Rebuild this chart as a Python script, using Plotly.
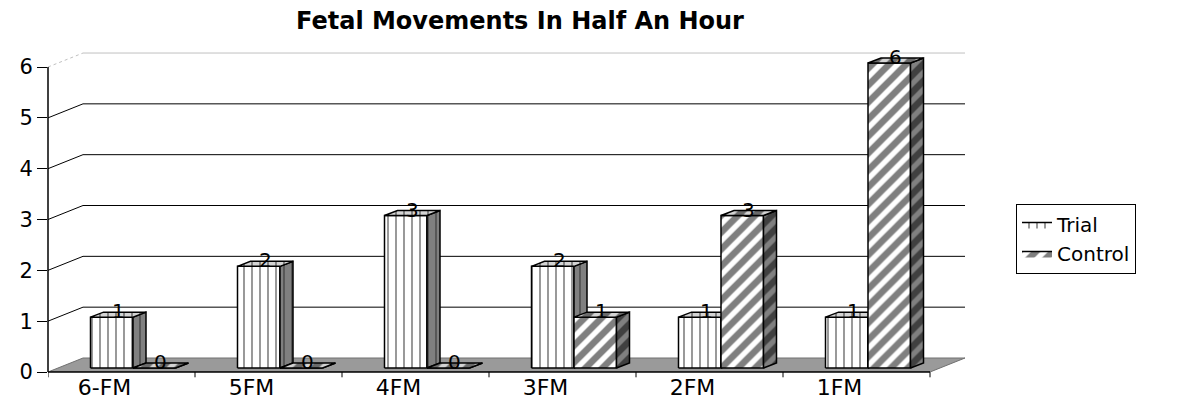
import plotly.graph_objects as go

# ---- data ----
categories = ["6-FM", "5FM", "4FM", "3FM", "2FM", "1FM"]
trial = [1, 2, 3, 2, 1, 1]
control = [0, 0, 0, 1, 3, 6]
y_ticks = [0, 1, 2, 3, 4, 5, 6]
series_names = ["Trial", "Control"]

# ---- geometry helpers (pixel sizes converted to data units) ----
PX_X = 147.0   # pixels per category
PX_Y = 50.83   # pixels per y unit
def dx(px):
    return px / PX_X
def dy(px):
    return px / PX_Y

WALL_DX, WALL_DY = dx(35), dy(14)
BAR_SHIFT, BAR_BASE = dx(11.5), dy(4)
BAR_W = dx(42.5)
BAR_DX, BAR_DY = dx(13), dy(5)

FONT = "DejaVu Sans, Arial, sans-serif"
styles = [
    dict(shape="|", fg="#2a2a2a", size=8, solidity=0.24),
    dict(shape="/", fg="#000000", size=12, solidity=0.55),
]
FRONT_BG, SIDE_BG, TOP_BG = "#ffffff", "#808080", "#d4d4d4"

fig = go.Figure()

def face(xs, ys, st, bg, name=None, show=False):
    fig.add_trace(go.Scatter(
        x=xs + [xs[0]], y=ys + [ys[0]], mode="lines", fill="toself",
        fillcolor=bg,
        fillpattern=dict(shape=st["shape"], fgcolor=st["fg"], bgcolor=bg,
                         size=st["size"], solidity=st["solidity"]),
        line=dict(color="#000000", width=1.5),
        name=name, legendgroup=name, showlegend=show, hoverinfo="skip"))

annotations = []
for i, cat in enumerate(categories):
    for s, vals in enumerate([trial, control]):
        v = vals[i]
        st = styles[s]
        xl = i + BAR_SHIFT - BAR_W + s * BAR_W
        xr = xl + BAR_W
        b = BAR_BASE
        t = BAR_BASE + v
        name = series_names[s]
        # front
        face([xl, xr, xr, xl], [b, b, t, t], st, FRONT_BG, name, show=(i == 0))
        # side
        face([xr, xr + BAR_DX, xr + BAR_DX, xr], [b, b + BAR_DY, t + BAR_DY, t], st, SIDE_BG, name)
        # top
        face([xl, xr, xr + BAR_DX, xl + BAR_DX], [t, t, t + BAR_DY, t + BAR_DY], st, TOP_BG, name)
        annotations.append(dict(
            x=xl + BAR_W / 2 + BAR_DX / 2, y=t, xref="x", yref="y",
            text=str(v), showarrow=False, yanchor="middle", yshift=6,
            font=dict(family=FONT, size=20, color="#000000")))

x0, x1 = -0.5, len(categories) - 0.5
shapes = []
# floor
shapes.append(dict(type="path", xref="x", yref="y", layer="below",
                   path=f"M {x0},0 L {x1},0 L {x1 + WALL_DX},{WALL_DY} L {x0 + WALL_DX},{WALL_DY} Z",
                   fillcolor="#9a9a9a", line=dict(color="#707070", width=1)))
# back wall gridlines
for v in y_ticks[1:]:
    col = "#c0c0c0" if v == y_ticks[-1] else "#000000"
    dash = "dot" if v == y_ticks[-1] else "solid"
    shapes.append(dict(type="line", xref="x", yref="y", layer="below",
                       x0=x0 + WALL_DX, x1=x1 + WALL_DX, y0=v + WALL_DY, y1=v + WALL_DY,
                       line=dict(color=col, width=1)))
    shapes.append(dict(type="line", xref="x", yref="y", layer="below",
                       x0=x0, x1=x0 + WALL_DX, y0=v, y1=v + WALL_DY,
                       line=dict(color=col, width=1, dash=dash)))
# axis lines
shapes.append(dict(type="line", xref="paper", yref="y", x0=0, x1=0, y0=0, y1=y_ticks[-1],
                   line=dict(color="#000000", width=1.5)))
shapes.append(dict(type="line", xref="x", yref="paper", x0=x0, x1=x1, y0=0, y1=0,
                   line=dict(color="#000000", width=1.5)))
# category boundary ticks
for k in range(len(categories) + 1):
    shapes.append(dict(type="line", xref="x", yref="paper", x0=x0 + k, x1=x0 + k, y0=0, y1=-0.016,
                       line=dict(color="#000000", width=1)))

W, H = 1184, 401
ml, mr, mt, mb = 48, 204, 40, 29
plot_w = W - ml - mr
plot_h = H - mt - mb

fig.update_layout(
    width=W, height=H,
    margin=dict(l=ml, r=mr, t=mt, b=mb, autoexpand=False),
    paper_bgcolor="#ffffff", plot_bgcolor="#ffffff",
    title=dict(text="<b>Fetal Movements In Half An Hour</b>", x=520 / W, xanchor="center",
               y=1 - 21 / H, yanchor="middle", font=dict(family=FONT, size=24, color="#000000")),
    xaxis=dict(range=[x0, x0 + plot_w / PX_X], tickvals=list(range(len(categories))),
               ticktext=categories, ticks="", showgrid=False, zeroline=False, showline=False,
               automargin=False, ticklabelshift=-17,
               tickfont=dict(family=FONT, size=22, color="#000000")),
    yaxis=dict(range=[0, plot_h / PX_Y], tickvals=y_ticks, ticks="outside", ticklen=10,
               tickcolor="#000000", showgrid=False, zeroline=False, showline=False,
               automargin=False, tickfont=dict(family=FONT, size=21, color="#000000")),
    showlegend=True,
    legend=dict(x=(1016 - ml) / plot_w, xanchor="left", y=(H - mb - 204) / plot_h, yanchor="top",
                bordercolor="#000000", borderwidth=1, bgcolor="#ffffff",
                font=dict(family=FONT, size=20, color="#000000"), tracegroupgap=0),
    shapes=shapes,
    annotations=annotations,
)

fig.write_html("out.html", config={"displayModeBar": False},
               post_script="document.body.style.margin='0px';")
